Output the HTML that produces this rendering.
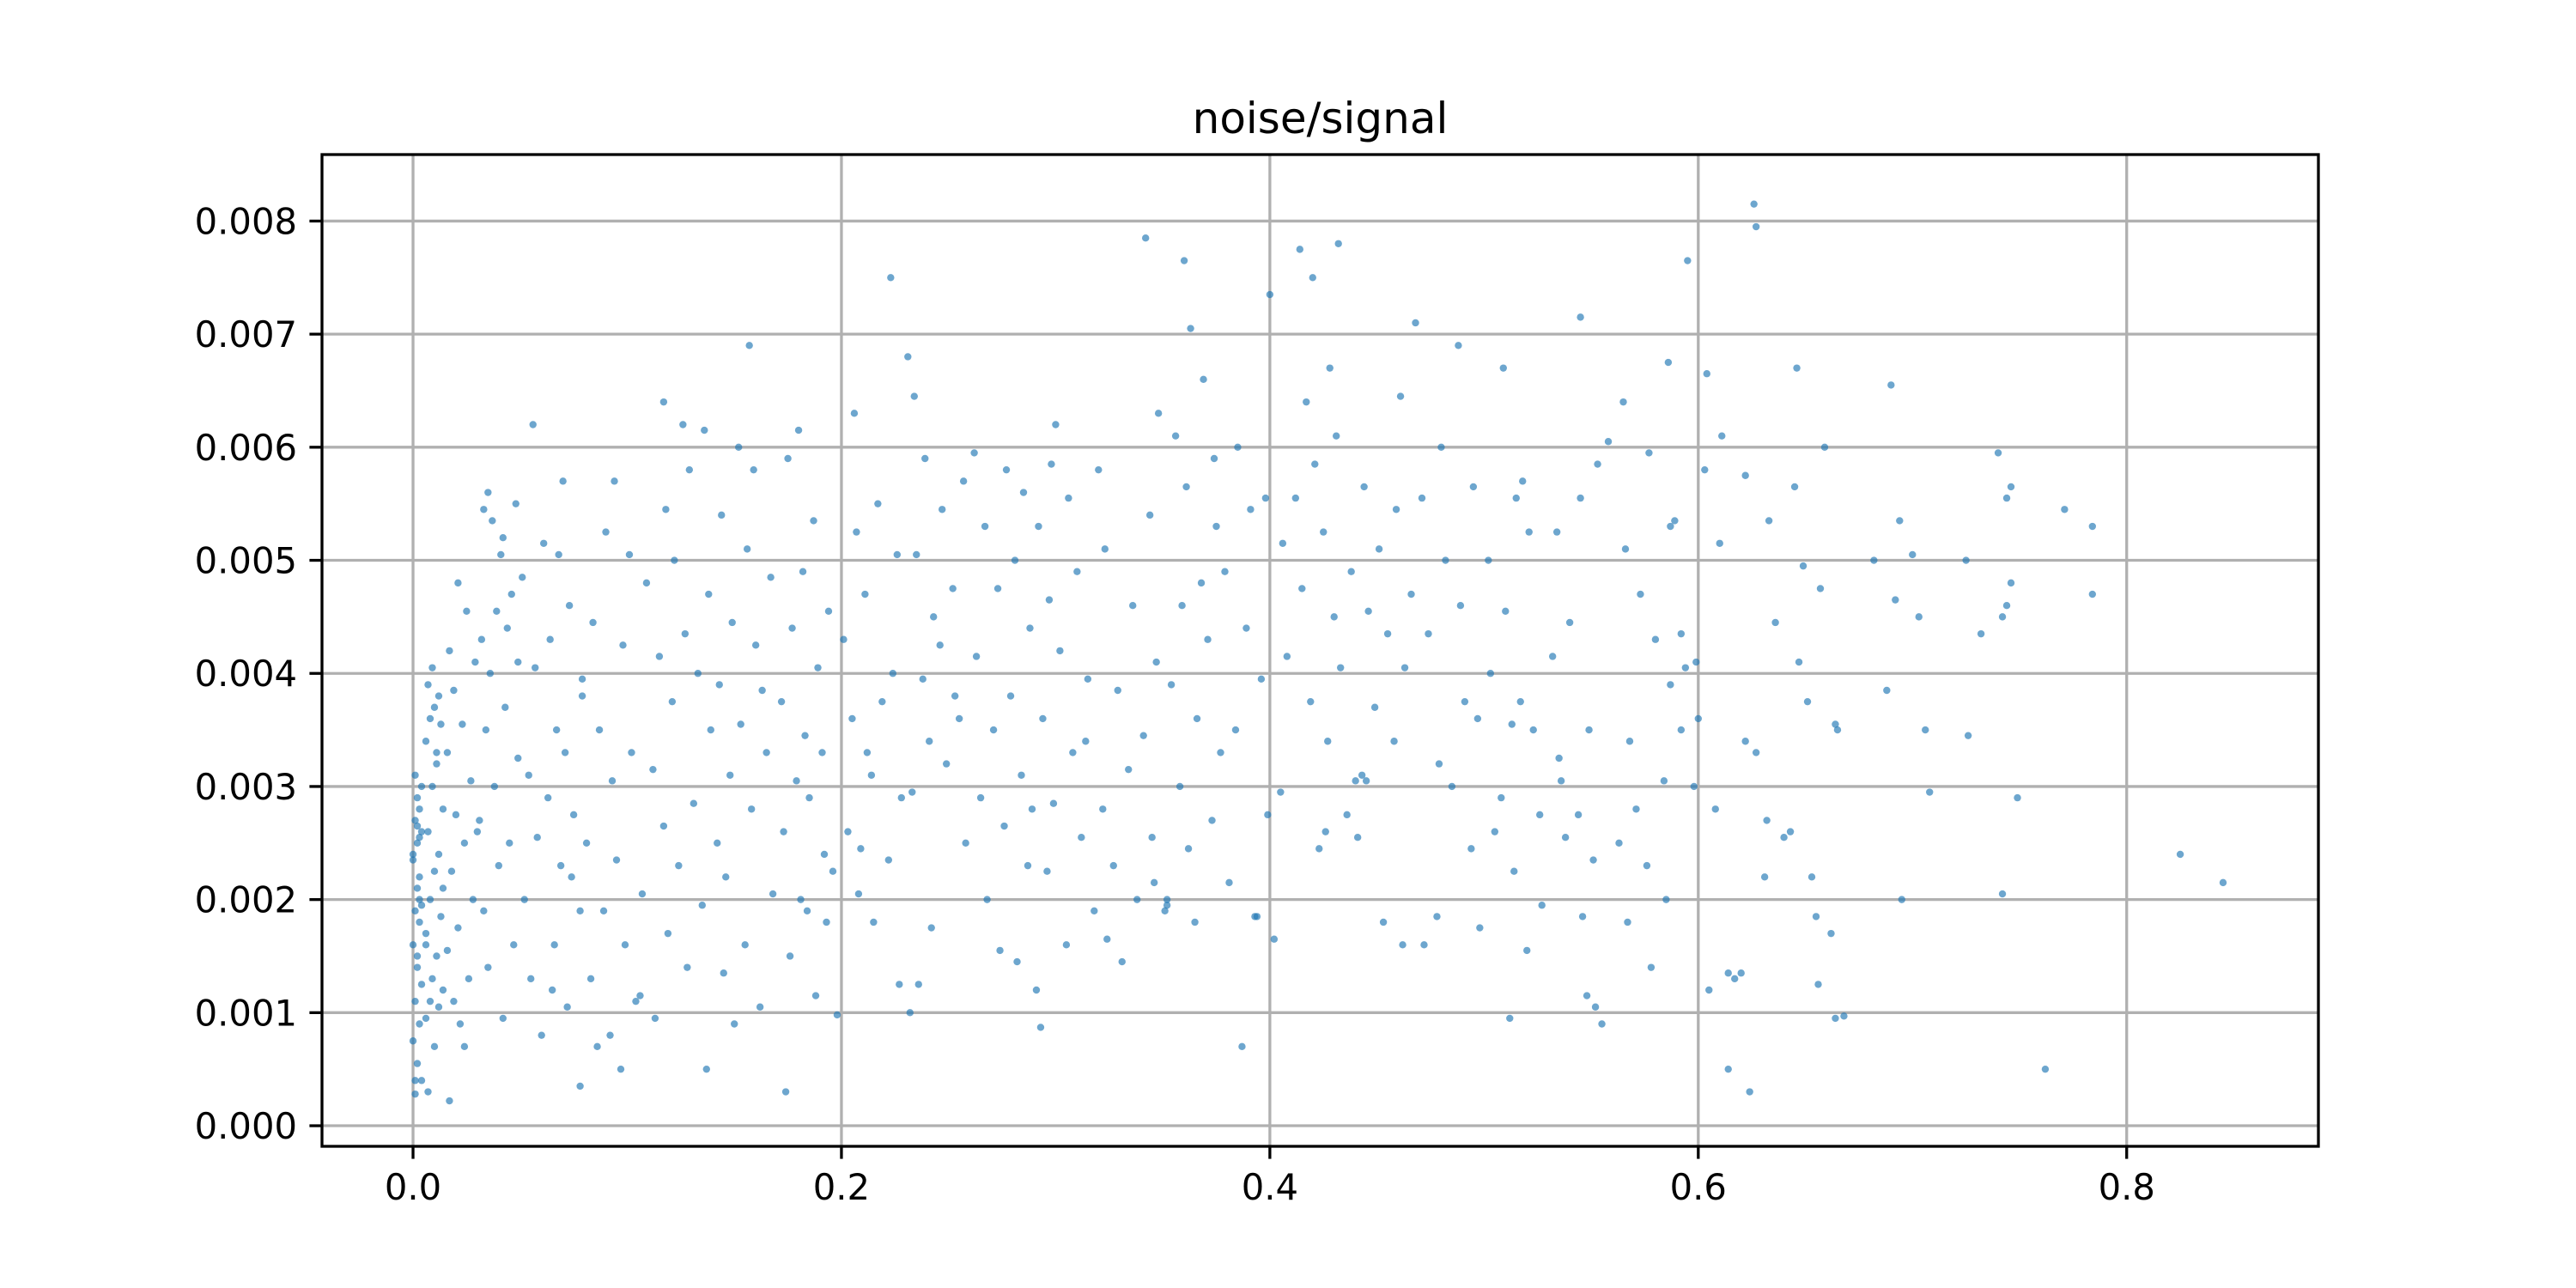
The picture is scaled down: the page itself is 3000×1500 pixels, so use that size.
<!DOCTYPE html>
<html><head><meta charset="utf-8"><title>noise/signal</title>
<style>
html,body{margin:0;padding:0;background:#fff;}
svg{display:block;font-family:"DejaVu Sans","Liberation Sans",sans-serif;}
</style></head>
<body>
<svg id="chart" width="3000" height="1500" viewBox="0 0 3000 1500" xmlns="http://www.w3.org/2000/svg">
<rect x="0" y="0" width="3000" height="1500" fill="#fff"/>
<text x="1537.5" y="155" font-size="50" text-anchor="middle" fill="#000">noise/signal</text>
<g id="grid"></g>
<g id="points"></g>
<rect x="375" y="180" width="2325" height="1155" fill="none" stroke="#000" stroke-width="3.3"/>
<g id="xaxis"></g>
<g id="yaxis"></g>
</svg>
<script>
const xTicks = [0.0, 0.2, 0.4, 0.6, 0.8];
const xTickLabels = ["0.0", "0.2", "0.4", "0.6", "0.8"];
const yTicks = [0, 0.001, 0.002, 0.003, 0.004, 0.005, 0.006, 0.007, 0.008];
const yTickLabels = ["0.000", "0.001", "0.002", "0.003", "0.004", "0.005", "0.006", "0.007", "0.008"];
const xValues = [
0.001,0.002,0.000,0.003,0.001,0.004,0.002,0.000,0.003,0.001,0.004,0.002,0.003,0.000,0.002,0.004,0.001,0.003,0.002,0.004,0.001,0.003,0.000,0.002,0.004,0.001,0.003,0.002,
0.007,0.010,0.006,0.012,0.008,0.014,0.009,0.011,0.006,0.013,0.008,0.010,0.012,0.007,0.014,0.009,0.011,0.006,0.013,0.008,0.010,0.012,0.007,0.009,0.011,0.014,0.006,
0.017,0.022,0.019,0.026,0.016,0.021,0.028,0.018,0.024,0.020,0.027,0.016,0.023,0.019,0.029,0.017,0.025,0.021,0.030,0.024,
0.042,0.035,0.047,0.033,0.040,0.045,0.031,0.038,0.049,0.034,0.043,0.036,0.032,0.044,0.039,0.046,0.041,0.037,0.033,0.048,0.035,0.042,0.049,
0.060,0.072,0.055,0.066,0.078,0.052,0.069,0.058,0.075,0.063,0.054,0.071,0.067,0.079,0.057,0.064,0.073,0.051,0.068,0.061,0.070,0.056,0.065,0.074,
0.078,0.097,0.086,0.092,0.104,0.083,0.099,0.089,0.107,0.095,0.081,0.093,0.102,0.087,0.079,0.098,0.084,0.109,0.101,0.090,0.094,0.106,
0.137,0.113,0.128,0.119,0.135,0.124,0.117,0.131,0.112,0.139,0.121,0.133,0.115,0.127,0.138,0.122,0.118,0.129,0.126,0.117,0.136,
0.150,0.162,0.145,0.155,0.168,0.142,0.158,0.148,0.165,0.153,0.143,0.160,0.149,0.167,0.156,0.144,0.159,0.152,0.157,0.163,0.146,
0.174,0.188,0.176,0.193,0.181,0.196,0.173,0.185,0.179,0.191,0.183,0.172,0.189,0.177,0.194,0.182,0.187,0.175,0.180,0.192,0.184,
0.198,0.227,0.215,0.208,0.222,0.203,0.228,0.212,0.205,0.219,0.224,0.201,0.211,0.226,0.207,0.217,0.206,0.223,0.214,0.209,
0.232,0.236,0.242,0.258,0.233,0.249,0.241,0.255,0.238,0.246,0.243,0.252,0.235,0.247,0.257,0.234,0.231,0.239,0.253,
0.282,0.274,0.268,0.287,0.276,0.265,0.284,0.271,0.279,0.263,0.288,0.273,0.281,0.267,0.285,0.277,0.262,0.289,
0.293,0.291,0.305,0.318,0.296,0.312,0.299,0.308,0.294,0.315,0.302,0.297,0.310,0.292,0.306,0.298,0.300,0.314,
0.331,0.324,0.338,0.327,0.345,0.322,0.334,0.341,0.329,0.347,0.336,0.323,0.344,0.320,0.348,0.342,0.352,0.346,
0.365,0.352,0.362,0.373,0.358,0.377,0.366,0.354,0.371,0.359,0.368,0.375,0.361,0.356,0.369,0.363,0.360,0.351,0.374,
0.387,0.402,0.393,0.381,0.399,0.405,0.384,0.396,0.408,0.389,0.379,0.406,0.391,0.398,0.385,0.400,0.394,
0.423,0.436,0.440,0.427,0.419,0.433,0.430,0.415,0.438,0.425,0.412,0.421,0.431,0.417,0.428,0.420,0.414,0.432,0.426,
0.462,0.453,0.441,0.445,0.458,0.449,0.463,0.455,0.446,0.466,0.451,0.459,0.444,0.461,0.468,0.443,
0.472,0.478,0.494,0.485,0.479,0.497,0.474,0.489,0.482,0.471,0.495,0.480,0.488,0.498,0.491,
0.512,0.520,0.527,0.514,0.505,0.508,0.523,0.517,0.503,0.510,0.502,0.521,0.515,0.518,0.509,0.526,0.513,
0.555,0.552,0.548,0.546,0.551,0.538,0.544,0.535,0.549,0.532,0.540,0.534,0.545,0.553,0.558,0.545,0.536,
0.578,0.567,0.576,0.563,0.571,0.584,0.568,0.587,0.580,0.573,0.566,0.589,0.577,0.565,0.586,0.585,
0.605,0.617,0.608,0.598,0.592,0.600,0.594,0.599,0.592,0.610,0.587,0.603,0.611,0.604,0.595,0.614,
0.624,0.614,0.620,0.631,0.643,0.632,0.627,0.622,0.636,0.633,0.622,0.627,0.626,0.640,
0.664,0.668,0.656,0.662,0.655,0.653,0.665,0.664,0.651,0.647,0.657,0.649,0.645,0.659,0.646,
0.695,0.708,0.706,0.688,0.703,0.692,0.682,0.694,0.690,0.700,
0.762,0.742,0.749,0.726,0.732,0.742,0.744,0.746,0.744,0.746,0.740,0.725,
0.784,0.784,0.771,0.825,0.845
];
const yValuesMilli = [
0.40,0.55,0.75,0.90,1.10,1.25,1.40,1.60,1.80,1.90,1.95,2.10,2.20,2.40,2.50,2.60,2.70,2.80,2.90,3.00,3.10,2.55,2.35,1.50,0.40,0.28,2.00,2.65,
0.30,0.70,0.95,1.05,1.10,1.20,1.30,1.50,1.70,1.85,2.00,2.25,2.40,2.60,2.80,3.00,3.20,3.40,3.55,3.60,3.70,3.80,3.90,4.05,3.30,2.10,1.60,
0.22,0.90,1.10,1.30,1.55,1.75,2.00,2.25,2.50,2.75,3.05,3.30,3.55,3.85,4.10,4.20,4.55,4.80,2.60,0.70,
0.95,1.40,1.60,1.90,2.30,2.50,2.70,3.00,3.25,3.50,3.70,4.00,4.30,4.40,4.55,4.70,5.05,5.35,5.45,5.50,5.60,5.20,4.10,
0.80,1.05,1.30,1.60,1.90,2.00,2.30,2.55,2.75,2.90,3.10,3.30,3.50,3.80,4.05,4.30,4.60,4.85,5.05,5.15,5.70,6.20,1.20,2.20,
0.35,0.50,0.70,0.80,1.10,1.30,1.60,1.90,2.05,2.35,2.50,3.05,3.30,3.50,3.95,4.25,4.45,4.80,5.05,5.25,5.70,1.15,
0.50,0.95,1.40,1.70,1.95,2.30,2.65,2.85,3.15,3.50,3.75,4.00,4.15,4.35,4.70,5.00,5.45,5.80,6.20,6.40,6.15,
0.90,1.05,1.35,1.60,2.05,2.50,2.80,3.10,3.30,3.55,3.90,4.25,4.45,4.85,5.10,5.40,5.80,6.00,6.90,3.85,2.20,
0.30,1.15,1.50,1.80,2.00,2.25,2.60,2.90,3.05,3.30,3.45,3.75,4.05,4.40,4.55,4.90,5.35,5.90,6.15,2.40,1.90,
0.98,1.25,1.80,2.05,2.35,2.60,2.90,3.30,3.60,3.75,4.00,4.30,4.70,5.05,5.25,5.50,6.30,7.50,3.10,2.45,
1.00,1.25,1.75,2.50,2.95,3.20,3.40,3.60,3.95,4.25,4.50,4.75,5.05,5.45,5.70,6.45,6.80,5.90,3.80,
1.45,1.55,2.00,2.30,2.65,2.90,3.10,3.50,3.80,4.15,4.40,4.75,5.00,5.30,5.60,5.80,5.95,2.80,
0.87,1.20,1.60,1.90,2.25,2.55,2.85,3.30,3.60,3.95,4.20,4.65,4.90,5.30,5.55,5.85,6.20,3.40,
1.45,1.65,2.00,2.30,2.55,2.80,3.15,3.45,3.85,4.10,4.60,5.10,5.40,5.80,6.30,7.85,1.95,2.15,
1.80,2.00,2.45,2.70,3.00,3.30,3.60,3.90,4.30,4.60,4.80,5.30,5.65,6.10,6.60,7.05,7.65,1.90,5.90,
0.70,1.65,1.85,2.15,2.75,2.95,3.50,3.95,4.15,4.40,4.90,5.15,5.45,5.55,6.00,7.35,1.85,
2.45,2.75,3.05,3.40,3.75,4.05,4.50,4.75,4.90,5.25,5.55,5.85,6.10,6.40,6.70,7.50,7.75,7.80,2.60,
1.60,1.80,2.55,3.05,3.40,3.70,4.05,4.35,4.55,4.70,5.10,5.45,5.65,6.45,7.10,3.10,
1.60,1.85,2.45,3.00,3.20,3.60,4.35,4.60,5.00,5.55,5.65,6.00,6.90,1.75,3.75,
0.95,1.55,1.95,2.25,2.60,2.90,3.50,3.75,4.00,4.55,5.00,5.25,5.55,5.70,6.70,2.75,3.55,
0.90,1.05,1.15,1.85,2.35,2.55,2.75,3.25,3.50,4.15,4.45,5.25,5.55,5.85,6.05,7.15,3.05,
1.40,1.80,2.30,2.50,2.80,3.05,3.40,3.90,4.30,4.70,5.10,5.35,5.95,6.40,6.75,2.00,
1.20,1.30,2.80,3.00,3.50,3.60,4.05,4.10,4.35,5.15,5.30,5.80,6.10,6.65,7.65,1.35,
0.30,0.50,1.35,2.20,2.60,2.70,3.30,3.40,4.45,5.35,5.75,7.95,8.15,2.55,
0.95,0.97,1.25,1.70,1.85,2.20,3.50,3.55,3.75,4.10,4.75,4.95,5.65,6.00,6.70,
2.00,2.95,3.50,3.85,4.50,4.65,5.00,5.35,6.55,5.05,
0.50,2.05,2.90,3.45,4.35,4.50,4.60,4.80,5.55,5.65,5.95,5.00,
4.70,5.30,5.45,2.40,2.15
];
const NS = "http://www.w3.org/2000/svg";
const PL = 375, PR = 2700, PT = 180, PB = 1335;
const XMIN = -0.0425, XMAX = 0.8895, YMIN = -0.000182, YMAX = 0.008588;
function xScale(v){ return PL + (v - XMIN) / (XMAX - XMIN) * (PR - PL); }
function yScale(v){ return PB - (v - YMIN) / (YMAX - YMIN) * (PB - PT); }
function mk(tag, attrs, parent){
  const e = document.createElementNS(NS, tag);
  for (const k in attrs) e.setAttribute(k, attrs[k]);
  parent.appendChild(e); return e;
}
const grid = document.getElementById('grid');
const xaxis = document.getElementById('xaxis');
const yaxis = document.getElementById('yaxis');
const pts = document.getElementById('points');
xTicks.forEach((t, i) => {
  const x = xScale(t);
  const g = mk('line', {x1:x, x2:x, y1:PT, y2:PB, stroke:'#b0b0b0', 'stroke-width':3.3}, grid);
  
  
  const tk = mk('line', {x1:x, x2:x, y1:PB, y2:PB+14.6, stroke:'#000', 'stroke-width':3.3}, xaxis);
  
  
  const lb = mk('text', {x:x, y:1397, 'font-size':41.7, 'text-anchor':'middle', fill:'#000'}, xaxis);
  lb.textContent = xTickLabels[i];
  
  
});
yTicks.forEach((t, i) => {
  const y = yScale(t);
  const g = mk('line', {x1:PL, x2:PR, y1:y, y2:y, stroke:'#b0b0b0', 'stroke-width':3.3}, grid);
  
  
  const tk = mk('line', {x1:PL-14.6, x2:PL, y1:y, y2:y, stroke:'#000', 'stroke-width':3.3}, yaxis);
  
  
  const lb = mk('text', {x:346, y:y+15, 'font-size':41.7, 'text-anchor':'end', fill:'#000'}, yaxis);
  lb.textContent = yTickLabels[i];
  
  
});
const n = Math.min(xValues.length, yValuesMilli.length);
for (let i = 0; i < n; i++){
  const c = mk('circle', {cx:xScale(xValues[i]), cy:yScale(yValuesMilli[i]*1e-3), r:4.2, fill:'#1f77b4', 'fill-opacity':0.65}, pts);
  
  
}
</script>
</body></html>
